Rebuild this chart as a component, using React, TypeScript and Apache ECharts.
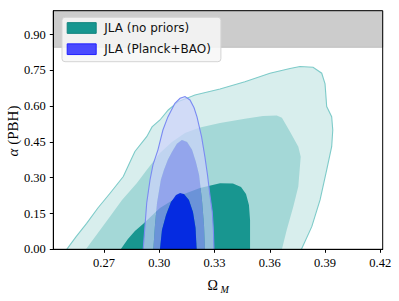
import React, { useEffect, useRef } from "react";
import * as echarts from "echarts";

// ---- data (Ω_M, α) ----
const X_TICKS = [0.27, 0.3, 0.33, 0.36, 0.39, 0.42];
const Y_TICKS = [0, 0.15, 0.3, 0.45, 0.6, 0.75, 0.9];
const X_RANGE = [0.2425, 0.4213];
const Y_RANGE = [0, 1.0];
const PRIOR_BAND = [0.847, 1.0];

const SERIES_NAMES = ["JLA (no priors)", "JLA (Planck+BAO)"];

// JLA (no priors): 3 contour levels (outer -> inner)
const tealOuter = [
  [0.2498, 0], [0.2548, 0.052], [0.2606, 0.109], [0.2667, 0.173], [0.2733, 0.235],
  [0.2805, 0.305], [0.2847, 0.375], [0.2868, 0.41], [0.2932, 0.472], [0.2961, 0.513],
  [0.3004, 0.542], [0.3049, 0.584], [0.3103, 0.619], [0.3194, 0.647], [0.333, 0.672],
  [0.3465, 0.702], [0.3601, 0.738], [0.371, 0.758], [0.3764, 0.766], [0.3835, 0.763],
  [0.3882, 0.738], [0.39, 0.693], [0.3909, 0.598], [0.3936, 0.556], [0.3942, 0.5],
  [0.3936, 0.43], [0.3909, 0.333], [0.3873, 0.207], [0.3828, 0.095], [0.3772, 0],
];
const tealMid = [
  [0.2602, 0], [0.2667, 0.068], [0.2733, 0.137], [0.2798, 0.207], [0.2879, 0.278],
  [0.2933, 0.333], [0.3004, 0.404], [0.3069, 0.45], [0.314, 0.487], [0.3221, 0.511],
  [0.333, 0.529], [0.3465, 0.547], [0.3563, 0.559], [0.3638, 0.561], [0.3666, 0.551],
  [0.371, 0.493], [0.3755, 0.43], [0.3768, 0.388], [0.3755, 0.263], [0.3728, 0.179],
  [0.3692, 0.081], [0.3666, 0],
];
const tealInner = [
  [0.2791, 0], [0.283, 0.043], [0.2868, 0.077], [0.2912, 0.106], [0.3004, 0.173],
  [0.3113, 0.226], [0.3221, 0.257], [0.333, 0.277], [0.34, 0.276], [0.3444, 0.261],
  [0.3471, 0.232], [0.3487, 0.186], [0.3493, 0.123], [0.3493, 0],
];

// JLA (Planck+BAO): 3 contour levels (outer -> inner)
const blueOuter = [
  [0.2913, 0], [0.2923, 0.102], [0.2932, 0.194], [0.295, 0.291], [0.2966, 0.354],
  [0.2993, 0.417], [0.302, 0.5], [0.3047, 0.555], [0.3085, 0.612], [0.3113, 0.633],
  [0.314, 0.64], [0.3167, 0.626], [0.3189, 0.593], [0.3205, 0.555], [0.323, 0.471],
  [0.3248, 0.387], [0.3262, 0.312], [0.3275, 0.228], [0.3288, 0.156], [0.3294, 0.081],
  [0.3297, 0],
];
const blueMid = [
  [0.2968, 0], [0.2977, 0.102], [0.2988, 0.194], [0.3009, 0.291], [0.3026, 0.333],
  [0.3047, 0.375], [0.3069, 0.408], [0.3096, 0.442], [0.3123, 0.458], [0.3151, 0.45],
  [0.3178, 0.417], [0.3199, 0.366], [0.3216, 0.312], [0.3232, 0.207], [0.3243, 0.102],
  [0.3248, 0],
];
const blueInner = [
  [0.3004, 0], [0.3015, 0.081], [0.3037, 0.144], [0.3064, 0.198], [0.3091, 0.228],
  [0.3113, 0.236], [0.3134, 0.232], [0.3161, 0.207], [0.3183, 0.156], [0.3197, 0.089],
  [0.3203, 0],
];

function band(outer: number[][], inner: number[][] | null) {
  return inner ? outer.concat(inner.slice().reverse()) : outer;
}

function contour(
  name: string,
  fillPts: number[][],
  fill: string,
  edgePts: number[][] | null,
  edge: string,
  z: number,
  extra: any = {}
) {
  return {
    type: "custom",
    name,
    z,
    silent: true,
    clip: true,
    data: fillPts,
    encode: { x: 0, y: 1 },
    renderItem: (params: any, api: any) => {
      if (params.dataIndex !== 0) return null;
      const p = fillPts.map((d) => api.coord(d));
      const children: any[] = [
        { type: "polygon", shape: { points: p }, style: { fill, stroke: null } },
      ];
      if (edgePts) {
        children.push({
          type: "polyline",
          shape: { points: edgePts.map((d) => api.coord(d)) },
          style: { fill: null, stroke: edge, lineWidth: 1.1 },
        });
      }
      return { type: "group", children };
    },
    ...extra,
  };
}

export default function App() {
  const ref = useRef<HTMLDivElement>(null);
  useEffect(() => {
    if (!ref.current) return;
    const chart = echarts.init(ref.current, null, { renderer: "svg" });
    const tickFont = { fontFamily: "Liberation Serif", fontSize: 12.5, color: "#000" };
    chart.setOption({
      animation: false,
      backgroundColor: "#fff",
      grid: {
        left: 53.3,
        top: 10.7,
        right: 16.3,
        bottom: 51.7,
        show: true,
        borderColor: "#000",
        borderWidth: 1,
        backgroundColor: "transparent",
        z: 10,
      },
      xAxis: {
        type: "value",
        min: X_RANGE[0],
        max: X_RANGE[1],
        z: 10,
        axisLine: { show: true, onZero: false, lineStyle: { color: "#000", width: 1 } },
        axisTick: { show: true, length: 3.5, customValues: X_TICKS, lineStyle: { color: "#000" } },
        axisLabel: {
          ...tickFont,
          margin: 7.5,
          customValues: X_TICKS,
          formatter: (v: number) => v.toFixed(2),
        },
        splitLine: { show: false },
      },
      yAxis: {
        type: "value",
        min: Y_RANGE[0],
        max: Y_RANGE[1],
        z: 10,
        axisLine: { show: true, lineStyle: { color: "#000", width: 1 } },
        axisTick: { show: true, length: 3.5, customValues: Y_TICKS, lineStyle: { color: "#000" } },
        axisLabel: {
          ...tickFont,
          margin: 7.5,
          customValues: Y_TICKS,
          formatter: (v: number) => v.toFixed(2),
        },
        splitLine: { show: false },
      },
      legend: {
        left: 62,
        top: 17.3,
        orient: "vertical",
        itemWidth: 29,
        itemHeight: 10.7,
        itemGap: 7.2,
        padding: [3.7, 10, 5.5, 4.7],
        backgroundColor: "rgba(247,247,247,0.85)",
        borderColor: "#d4d4d4",
        borderWidth: 1,
        borderRadius: 3,
        textStyle: { fontFamily: "DejaVu Sans", fontSize: 12, color: "#111", lineHeight: 14, padding: [0, 0, 0, 3] },
        selectedMode: false,
        data: [
          { name: SERIES_NAMES[0], icon: "rect", itemStyle: { color: "#179690", borderColor: "#13857f", borderWidth: 1 } },
          { name: SERIES_NAMES[1], icon: "rect", itemStyle: { color: "rgba(50,50,255,0.88)", borderColor: "#2222ff", borderWidth: 1 } },
        ],
      },
      graphic: [
        {
          type: "text",
          x: 207.5,
          y: 285,
          style: { text: "Ω", fill: "#000", font: '14px "Liberation Serif"', align: "left", verticalAlign: "middle" },
        },
        {
          type: "text",
          x: 220.5,
          y: 289,
          style: { text: "M", fill: "#000", font: 'italic 10px "Liberation Serif"', align: "left", verticalAlign: "middle" },
        },
        {
          type: "text",
          x: 12.5,
          y: 131,
          rotation: Math.PI / 2,
          style: {
            text: "{i|α} (PBH)",
            fill: "#000",
            font: '15px "Liberation Serif"',
            align: "center",
            verticalAlign: "middle",
            rich: { i: { fontStyle: "italic", fontFamily: "Liberation Serif", fontSize: 15 } },
          },
        },
      ],
      series: [
        contour(SERIES_NAMES[0], tealOuter, "#d8eeed", tealOuter, "#7ecbc9", 2, {
          markArea: {
            silent: true,
            itemStyle: { color: "#cccccc", borderColor: "#bdbdbd", borderWidth: 1 },
            data: [[{ yAxis: PRIOR_BAND[0] }, { yAxis: PRIOR_BAND[1] }]],
          },
        }),
        contour(SERIES_NAMES[0], tealMid, "#a4d8d7", null, "", 3),
        contour(SERIES_NAMES[0], tealInner, "#189690", null, "", 4),
        contour(SERIES_NAMES[1], band(blueOuter, blueMid), "rgba(205,210,252,0.68)", blueOuter, "#7a8af2", 5),
        contour(SERIES_NAMES[1], band(blueMid, blueInner), "rgba(140,146,244,0.72)", null, "", 6),
        contour(SERIES_NAMES[1], blueInner, "rgba(4,38,228,0.96)", null, "", 7),
      ],
    });
    return () => chart.dispose();
  }, []);
  return (
    <div
      ref={ref}
      style={{ position: "absolute", left: 0, top: 0, width: 399, height: 301 }}
    />
  );
}
